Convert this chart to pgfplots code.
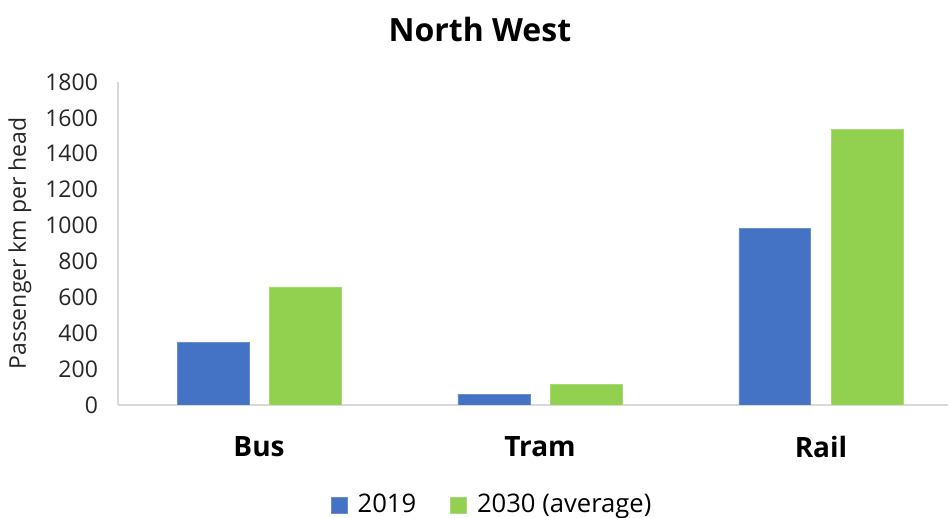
\documentclass[border=0pt]{standalone}
\usepackage{pgfplots}
\pgfplotsset{compat=1.18}
\usepackage{fontspec}
\setmainfont{Open Sans}

\definecolor{SerA}{HTML}{4472C4}
\definecolor{SerB}{HTML}{92D050}
\definecolor{AxisGrey}{HTML}{D9D9D9}

\begin{document}
\begin{tikzpicture}
  \path[use as bounding box] (-59pt,-56.5pt) rectangle (416pt,202.5pt);
  \begin{axis}[
      scale only axis,
      width=415pt, height=161.5pt,
      xmin=-0.502, xmax=2.452,
      ymin=0, ymax=1800,
      ytick={0,200,...,1800},
      xtick={0,1,2},
      xticklabels={Bus,Tram,Rail},
      axis x line*=bottom,
      axis y line*=left,
      axis line style={draw=AxisGrey, line width=0.8pt},
      separate axis lines,
      x axis line style={-},
      y axis line style={-},
      major tick length=0pt,
      tick style={draw=none},
      /pgf/number format/assume math mode=true,
      /pgf/number format/1000 sep={},
      yticklabel style={font=\fontsize{11.5}{13}\selectfont, color=black!85, xshift=-6.5pt},
      xticklabel style={font=\fontsize{14}{16}\selectfont\bfseries, yshift=-12pt},
      ylabel={Passenger km per head},
      every axis y label/.style={at={(-49pt,0.5)}, rotate=90, anchor=center,
        font=\fontsize{11.5}{13}\selectfont, color=black!85},
      title={North West},
      title style={font=\fontsize{16}{18}\selectfont\bfseries, at={(0.436,1)}, anchor=center, yshift=20pt},
      legend style={draw=none, at={(0.452,-0.31)}, anchor=center,
        legend columns=2, font=\fontsize{12.8}{15}\selectfont, fill=none,
        /tikz/every even column/.append style={column sep=15pt}},
      legend image code/.code={\fill[#1] (0pt,-4pt) rectangle (8pt,4pt); \path (11pt,0pt);},
    ]
    \addplot[ybar, bar width=0.256, bar shift=-0.164, draw=SerA!80!white, fill=SerA]
      coordinates {(0,351) (1,61) (2,985)};
    \addplot[ybar, bar width=0.256, bar shift=0.164, draw=SerB!80!white, fill=SerB]
      coordinates {(0,658) (1,117) (2,1538)};
    \legend{2019, 2030 (average)}
  \end{axis}
\end{tikzpicture}
\end{document}
